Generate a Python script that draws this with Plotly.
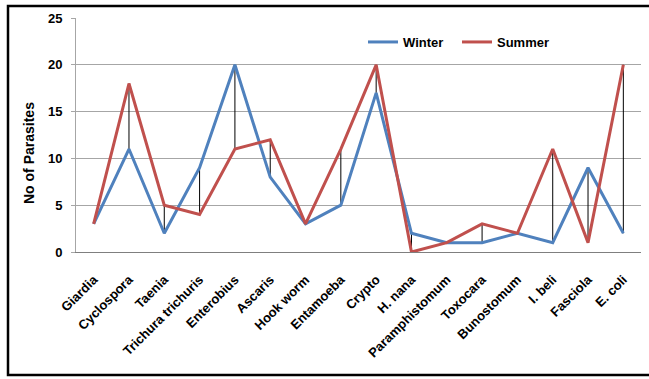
import plotly.graph_objects as go

# Parasite counts by species, winter vs summer
parasites = ["Giardia", "Cyclospora", "Taenia", "Trichura trichuris", "Enterobius",
             "Ascaris", "Hook worm", "Entamoeba", "Crypto", "H. nana",
             "Paramphistomum", "Toxocara", "Bunostomum", "I. beli", "Fasciola", "E. coli"]
winter = [3, 11, 2, 9, 20, 8, 3, 5, 17, 2, 1, 1, 2, 1, 9, 2]
summer = [3, 18, 5, 4, 11, 12, 3, 11, 20, 0, 1, 3, 2, 11, 1, 20]
y_ticks = [0, 5, 10, 15, 20, 25]

W, H = 649, 379
L, R, T, B = 76, 8, 18, 127
pw, ph = W - L - R, H - T - B

BLUE = "#4F81BD"
RED = "#C0504D"
FONT = "Liberation Sans, Arial, sans-serif"

fig = go.Figure()

# high-low connectors between the two seasons
hx, hy = [], []
for cat, w, s in zip(parasites, winter, summer):
    hx += [cat, cat, None]
    hy += [w, s, None]
fig.add_trace(go.Scatter(x=hx, y=hy, mode="lines", line=dict(color="black", width=1),
                         showlegend=False, hoverinfo="skip"))

fig.add_trace(go.Scatter(x=parasites, y=winter, mode="lines", name="Winter",
                         line=dict(color=BLUE, width=3)))
fig.add_trace(go.Scatter(x=parasites, y=summer, mode="lines", name="Summer",
                         line=dict(color=RED, width=3)))

fig.update_layout(
    width=W, height=H,
    margin=dict(l=L, r=R, t=T, b=B),
    paper_bgcolor="white", plot_bgcolor="white",
    font=dict(family=FONT, size=12, color="black"),
    showlegend=True,
    legend=dict(orientation="h", x=(363 - L) / pw, y=(H - B - 42) / ph,
                xanchor="left", yanchor="middle",
                font=dict(family=FONT, size=13, color="black", weight="bold"),
                bgcolor="rgba(0,0,0,0)", itemwidth=30,
                entrywidth=49, entrywidthmode="pixels"),
    xaxis=dict(type="category", categoryorder="array", categoryarray=parasites,
               range=[-0.5, len(parasites) - 0.5],
               tickangle=-45,
               showgrid=False, showline=True, linecolor="#7F7F7F",
               linewidth=1, ticks="", zeroline=False, ticklabelstandoff=14,
               tickfont=dict(family=FONT, size=13, color="black", weight="bold")),
    yaxis=dict(range=[0, 25], tickvals=y_ticks, showgrid=True, gridcolor="#A6A6A6",
               gridwidth=1, showline=True, linecolor="#A6A6A6", linewidth=1,
               ticks="outside", ticklen=4, tickcolor="#A6A6A6", zeroline=False,
               ticklabelstandoff=6,
               tickfont=dict(family=FONT, size=13, color="black", weight="bold")),
    annotations=[dict(text="No of Parasites", xref="paper", yref="paper",
                      x=(29 - L) / pw, y=(H - B - 153) / ph, textangle=-90,
                      showarrow=False, xanchor="center", yanchor="middle",
                      font=dict(family=FONT, size=14, color="black", weight="bold"))],
    shapes=[dict(type="rect", xref="paper", yref="paper",
                 x0=(8 - L) / pw, x1=(660 - L) / pw,
                 y0=(H - B - 375) / ph, y1=(H - B - 6) / ph,
                 line=dict(color="black", width=2.5), fillcolor="rgba(0,0,0,0)",
                 layer="above")],
)

fig.write_html("out.html")
